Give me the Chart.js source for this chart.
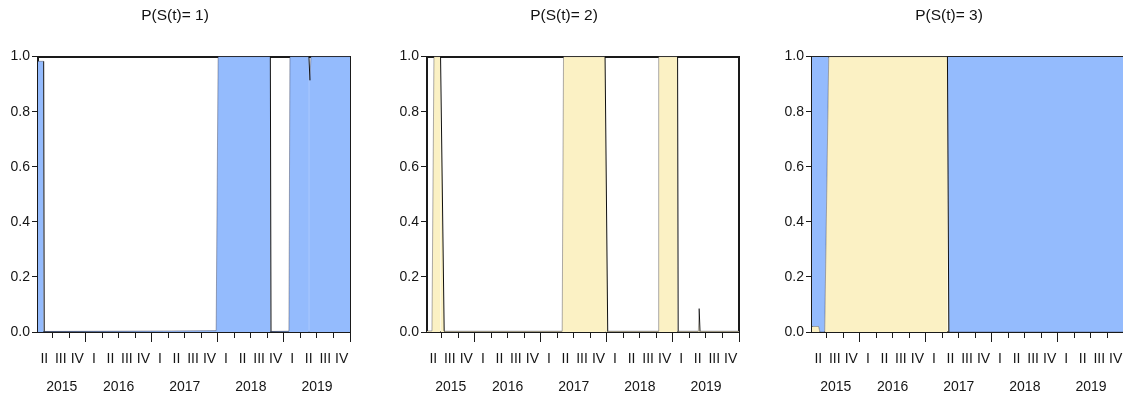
<!DOCTYPE html>
<html>
<head>
<meta charset="utf-8">
<script src="https://cdn.jsdelivr.net/npm/chart.js@4.4.1/dist/chart.umd.min.js"></script>
<style>
  html, body { margin: 0; padding: 0; background: #fff; overflow: hidden; }
  body { width: 1123px; height: 398px; position: relative; }
  .panel { position: absolute; top: 0; width: 388px; height: 398px; }
</style>
</head>
<body>
<div class="panel" style="left:0px"><canvas id="p1"></canvas></div>
<div class="panel" style="left:389px"><canvas id="p2"></canvas></div>
<div class="panel" style="left:774px"><canvas id="p3"></canvas></div>
<script>
// sample runs from about April 2015 to the end of 2019 (decimal years)
const xStart = 2015.28;
const xEnd = 2020.0;
const years = [2015, 2016, 2017, 2018, 2019];
const quarterNames = ["I", "II", "III", "IV"];

// P(S(t)=1)
const s1Time = [2015.28, 2015.366, 2015.374, 2015.40, 2017.30, 2017.975, 2018.005, 2018.795, 2018.805, 2019.076, 2019.091, 2019.379, 2019.394, 2019.409, 2020.0];
const s1Prob = [0.983, 0.983, 0.002, 0.002, 0.004, 0.005, 1.0, 1.0, 0.002, 0.003, 1.0, 1.0, 0.914, 1.0, 1.0];

// P(S(t)=2)
const s2Time = [2015.28, 2015.355, 2015.385, 2015.485, 2015.54, 2017.325, 2017.345, 2017.974, 2018.014, 2018.775, 2018.785, 2019.071, 2019.08, 2019.385, 2019.397, 2019.41, 2020.0];
const s2Prob = [0.004, 0.004, 1.0, 1.0, 0.003, 0.003, 1.0, 1.0, 0.003, 0.003, 1.0, 1.0, 0.003, 0.003, 0.085, 0.003, 0.003];

// P(S(t)=3)
const s3Time = [2015.28, 2015.38, 2015.40, 2015.472, 2015.533, 2017.329, 2017.35, 2020.0];
const s3Prob = [0.02, 0.02, 0.0, 0.0, 1.0, 1.0, 0.0, 0.0];

const FONT = "'Liberation Sans', Arial, sans-serif";
const INK = "#1a1a1a";
const BLUE = "#94BBFD";
const YELLOW = "#FBF1C4";

// quarter tick marks, quarter labels and year labels along the date axis
function buildAxisTicks() {
    const out = [];
    years.forEach(y => {
        for (let q = 0; q < 4; q++) {
            const a = y + q / 4;
            if (a >= xStart && a <= xEnd) out.push({ value: a, kind: q === 0 ? "year" : "quarter" });
            const mid = a + 0.125;
            if (mid >= xStart && mid <= xEnd) out.push({ value: mid, kind: "qlabel", text: quarterNames[q] });
        }
        const lo = Math.max(y, xStart);
        const hi = Math.min(y + 1, xEnd);
        out.push({ value: (lo + hi) / 2, kind: "ylabel", text: String(y) });
    });
    out.push({ value: 2020, kind: "year" });
    return out.sort((a, b) => a.value - b.value);
}
const axisTicks = buildAxisTicks();

function toPoints(times, probs) {
    return times.map((t, i) => ({ x: t, y: probs[i] }));
}

const edgeColor = c => c.p1.parsed.y < c.p0.parsed.y - 0.05 ? "#111" : "rgba(50,50,70,0.4)";

function makeOptions(title) {
    return {
        responsive: true,
        maintainAspectRatio: false,
        animation: false,
        layout: { padding: { left: 0, right: 38, top: 0, bottom: 0 } },
        plugins: {
            legend: { display: false },
            tooltip: { enabled: false },
            title: {
                display: true,
                text: title,
                color: "#111",
                font: { family: FONT, size: 15.5, weight: "normal" },
                padding: { top: 6, bottom: 32 }
            }
        },
        scales: {
            x: {
                type: "linear",
                position: "bottom",
                min: xStart,
                max: xEnd,
                afterBuildTicks: s => { s.ticks = axisTicks.map(t => ({ ...t })); },
                afterFit: s => { s.height = 66; },
                border: { color: INK, width: 2 },
                grid: {
                    drawOnChartArea: false,
                    drawTicks: true,
                    tickLength: 10,
                    tickWidth: 1,
                    tickColor: c => (c.tick && (c.tick.kind === "year" || c.tick.kind === "quarter")) ? INK : "rgba(0,0,0,0)",
                    tickBorderDash: c => (c.tick && c.tick.kind === "quarter") ? [5, 40] : []
                },
                ticks: {
                    autoSkip: false,
                    maxRotation: 0,
                    minRotation: 0,
                    padding: 3,
                    color: "#151515",
                    font: { family: FONT, size: 14, lineHeight: "28px" },
                    callback: (v, i, ticks) => {
                        const t = ticks[i];
                        if (t.kind === "qlabel") return t.text;
                        if (t.kind === "ylabel") return ["", t.text];
                        return "";
                    }
                }
            },
            y: {
                position: "left",
                min: 0,
                max: 1,
                afterFit: s => { s.width = 38; },
                border: { color: INK, width: 2 },
                grid: { drawOnChartArea: false, tickLength: 6, tickColor: INK },
                ticks: {
                    stepSize: 0.2,
                    padding: 2,
                    color: "#151515",
                    font: { family: FONT, size: 14 },
                    callback: v => v.toFixed(1)
                }
            },
            xTop: {
                type: "linear",
                position: "top",
                min: xStart,
                max: xEnd,
                ticks: { display: false },
                grid: { drawOnChartArea: false, drawTicks: false },
                border: { color: INK, width: 2 },
                afterFit: s => { s.height = 0; }
            },
            yRight: {
                position: "right",
                min: 0,
                max: 1,
                ticks: { display: false },
                grid: { drawOnChartArea: false, drawTicks: false },
                border: { color: INK, width: 2 },
                afterFit: s => { s.width = 0; }
            }
        }
    };
}

function areaDataset(times, probs, color) {
    return {
        data: toPoints(times, probs),
        xAxisID: "x",
        yAxisID: "y",
        borderWidth: 1,
        pointRadius: 0,
        tension: 0,
        fill: { target: "origin", above: color, below: color },
        segment: { borderColor: edgeColor }
    };
}

new Chart(document.getElementById("p1"), {
    type: "line",
    data: { datasets: [areaDataset(s1Time, s1Prob, BLUE)] },
    options: makeOptions("P(S(t)= 1)")
});

new Chart(document.getElementById("p2"), {
    type: "line",
    data: { datasets: [areaDataset(s2Time, s2Prob, YELLOW)] },
    options: makeOptions("P(S(t)= 2)")
});

// third panel: yellow under the probability, blue between it and 1
new Chart(document.getElementById("p3"), {
    type: "line",
    data: {
        datasets: [
            areaDataset(s3Time, s3Prob, YELLOW),
            {
                data: toPoints(s3Time, s3Prob),
                xAxisID: "x",
                yAxisID: "y",
                borderWidth: 0,
                pointRadius: 0,
                tension: 0,
                fill: { target: { value: 1 }, above: "rgba(0,0,0,0)", below: BLUE }
            }
        ]
    },
    options: makeOptions("P(S(t)= 3)")
});
</script>
</body>
</html>
